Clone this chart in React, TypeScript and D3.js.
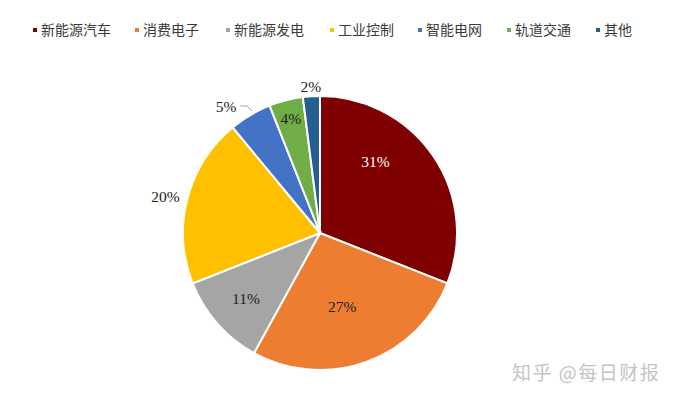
import React from 'react';
import * as d3 from 'd3';

const categories = ['新能源汽车', '消费电子', '新能源发电', '工业控制', '智能电网', '轨道交通', '其他'];
const shares = [31, 27, 11, 20, 5, 4, 2];
const colors = ['#7f0000', '#ed7d31', '#a5a5a5', '#ffc000', '#4472c4', '#70ad47', '#255e91'];
const labelText = ['31%', '27%', '11%', '20%', '5%', '4%', '2%'];

const width = 676;
const height = 398;
const cx = 320;
const cy = 233;
const radius = 137;

// label placement: offset from slice middle (degrees), radius factor, colour
const labelShift = [-18, 3, 0, -1, 0, 0, 0];
const labelRadius = [0.66, 0.56, 0.72, 1.16, 1.25, 0.86, 1.07];
const labelColor = ['#ffffff', '#222222', '#222222', '#222222', '#222222', '#222222', '#222222'];
const legendX = [33, 135, 226, 330, 418, 507, 596];

const App = () => {
  const pie = d3.pie<number>().sort(null).value(d => d);
  const arcs = pie(shares);
  const arc = d3.arc<d3.PieArcDatum<number>>().innerRadius(0).outerRadius(radius);

  return (
    <svg width={width} height={height} style={{ position: 'absolute', left: 0, top: 0, background: '#fff' }}>
      <g>
        {categories.map((c, i) => (
          <g key={c}>
            <rect x={legendX[i]} y={28} width={4} height={4} fill={colors[i]} />
            <text x={legendX[i] + 8} y={35} fontSize={14} fill="#3a3a3a" fontFamily="'Noto Sans CJK SC', sans-serif">
              {c}
            </text>
          </g>
        ))}
      </g>
      <g transform={`translate(${cx},${cy})`}>
        {arcs.map((a, i) => (
          <path key={i} d={arc(a) || ''} fill={colors[i]} stroke="#fff" strokeWidth={2} />
        ))}
        {arcs.map((a, i) => {
          const mid = (a.startAngle + a.endAngle) / 2 + (labelShift[i] * Math.PI) / 180;
          const r = radius * labelRadius[i];
          let x = Math.sin(mid) * r;
          let y = -Math.cos(mid) * r;
          if (i === 4) {
            x = -94;
            y = -127;
          }
          return (
            <text
              key={'l' + i}
              x={x}
              y={y}
              textAnchor="middle"
              dominantBaseline="central"
              fontSize={15.5}
              fill={labelColor[i]}
              fontFamily="'Liberation Serif', serif"
            >
              {labelText[i]}
            </text>
          );
        })}
        <path d="M -80 -127 L -73 -127 L -68 -122" fill="none" stroke="#a6a6a6" strokeWidth={1} />
      </g>
      <text x={512} y={380} fontSize={19} letterSpacing={1.5} fill="#c4c4c4" fontFamily="'Noto Sans CJK SC', sans-serif">
        知乎 @每日财报
      </text>
    </svg>
  );
};

export default App;
